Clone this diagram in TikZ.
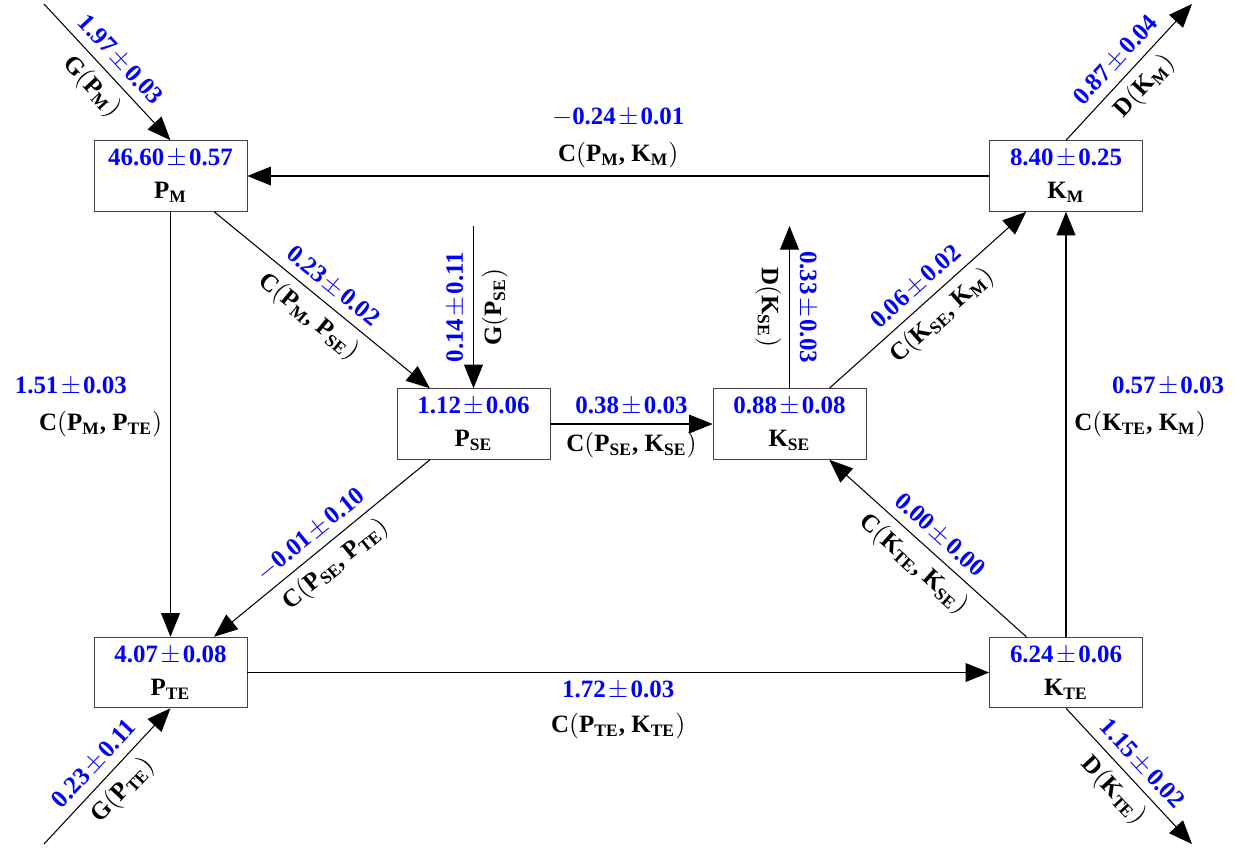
\documentclass[tikz,border=0pt]{standalone}
\usepackage{fontspec}
\setmainfont{Liberation Serif}
\usepackage{tikz}
\usetikzlibrary{positioning,arrows.meta,calc}
\definecolor{valblue}{HTML}{0000FF}
\definecolor{boxgray}{HTML}{444444}
\newcommand{\pool}[2]{#1\textsubscript{#2}}
\newcommand{\val}[2]{\textcolor{valblue}{#1\kern1pt$\pm$\kern1pt#2}}
\newcommand{\flow}[2]{#1$($#2$)$}

\begin{document}
\begin{tikzpicture}[x=0.425pt, y=-0.425pt,
    font=\fontsize{10.6}{14}\selectfont\bfseries,
    pool/.style={draw=boxgray, minimum width=65pt, minimum height=30pt, align=center, inner sep=2pt},
    flux/.style={-{Triangle[length=10pt,width=8pt]}, line width=0.45pt}]
  \useasboundingbox (0,0) rectangle (1237,848);
  % pools
  \node[pool] (PM) at (170.5,176) {\val{46.60}{0.57}\\\pool{P}{M}};
  \node[pool] (KM) at (1066,176) {\val{8.40}{0.25}\\\pool{K}{M}};
  \node[pool] (PSE) at (473.5,424) {\val{1.12}{0.06}\\\pool{P}{SE}};
  \node[pool] (KSE) at (789.5,424) {\val{0.88}{0.08}\\\pool{K}{SE}};
  \node[pool] (PTE) at (170.5,672.5) {\val{4.07}{0.08}\\\pool{P}{TE}};
  \node[pool] (KTE) at (1066,672.5) {\val{6.24}{0.06}\\\pool{K}{TE}};
  % free ends
  \coordinate (inPM) at (44,4);
  \coordinate (inPTE) at (44,844);
  \coordinate (inPSE) at (473.5,226);
  \coordinate (outKM) at (1192,4);
  \coordinate (outKTE) at (1192,844);
  \coordinate (outKSE) at (789.5,226);
  % gains and losses
  \draw[flux] (inPM) -- node[sloped, above] (vGPM) {\val{1.97}{0.03}}
    node[sloped, below] (nGPM) {\flow{G}{\pool{P}{M}}} (PM.north);
  \draw[flux] (inPTE) -- node[sloped, above] (vGPTE) {\val{0.23}{0.11}}
    node[sloped, below] (nGPTE) {\flow{G}{\pool{P}{TE}}} (PTE.south);
  \draw[flux] (KM.north) -- node[sloped, above] (vDKM) {\val{0.87}{0.04}}
    node[sloped, below] (nDKM) {\flow{D}{\pool{K}{M}}} (outKM);
  \draw[flux] (KTE.south) -- node[sloped, above] (vDKTE) {\val{1.15}{0.02}}
    node[sloped, below] (nDKTE) {\flow{D}{\pool{K}{TE}}} (outKTE);
  \draw[flux] (inPSE) -- node[rotate=90, anchor=south] (vGPSE) {\val{0.14}{0.11}}
    node[rotate=90, anchor=north] (nGPSE) {\flow{G}{\pool{P}{SE}}} (PSE);
  \draw[flux] (KSE) -- node[rotate=-90, anchor=south] (vDKSE) {\val{0.33}{0.03}}
    node[rotate=-90, anchor=north] (nDKSE) {\flow{D}{\pool{K}{SE}}} (outKSE);
  % transfers
  \draw[flux] (KM) -- node[above, align=center] (lPMKM)
    {\val{$-$0.24}{0.01}\\[1.5pt]\flow{C}{\pool{P}{M}, \pool{K}{M}}} (PM);
  \draw[flux] (PTE) -- node[below, align=center] (lPTEKTE)
    {\val{1.72}{0.03}\\[1pt]\flow{C}{\pool{P}{TE}, \pool{K}{TE}}} (KTE);
  \draw[flux] (PM) -- node[left] (nPMPTE) {\flow{C}{\pool{P}{M}, \pool{P}{TE}}}
    node[left, xshift=-15pt, yshift=16pt] (vPMPTE) {\val{1.51}{0.03}} (PTE);
  \draw[flux] (KTE) -- node[right] (nKTEKM) {\flow{C}{\pool{K}{TE}, \pool{K}{M}}}
    node[right, xshift=16pt, yshift=16pt] (vKTEKM) {\val{0.57}{0.03}} (KM);
  \draw[flux] (PSE) -- node[above] (vPSEKSE) {\val{0.38}{0.03}}
    node[below] (nPSEKSE) {\flow{C}{\pool{P}{SE}, \pool{K}{SE}}} (KSE);
  \draw[flux] (PM) -- node[sloped, above] (vPMPSE) {\val{0.23}{0.02}}
    node[sloped, below] (nPMPSE) {\flow{C}{\pool{P}{M}, \pool{P}{SE}}} (PSE);
  \draw[flux] (PSE) -- node[sloped, above] (vPSEPTE) {\val{$-$0.01}{0.10}}
    node[sloped, below] (nPSEPTE) {\flow{C}{\pool{P}{SE}, \pool{P}{TE}}} (PTE);
  \draw[flux] (KSE) -- node[sloped, above] (vKSEKM) {\val{0.06}{0.02}}
    node[sloped, below] (nKSEKM) {\flow{C}{\pool{K}{SE}, \pool{K}{M}}} (KM);
  \draw[flux] (KTE) -- node[sloped, above] (vKTEKSE) {\val{0.00}{0.00}}
    node[sloped, below] (nKTEKSE) {\flow{C}{\pool{K}{TE}, \pool{K}{SE}}} (KSE);
\end{tikzpicture}
\end{document}
